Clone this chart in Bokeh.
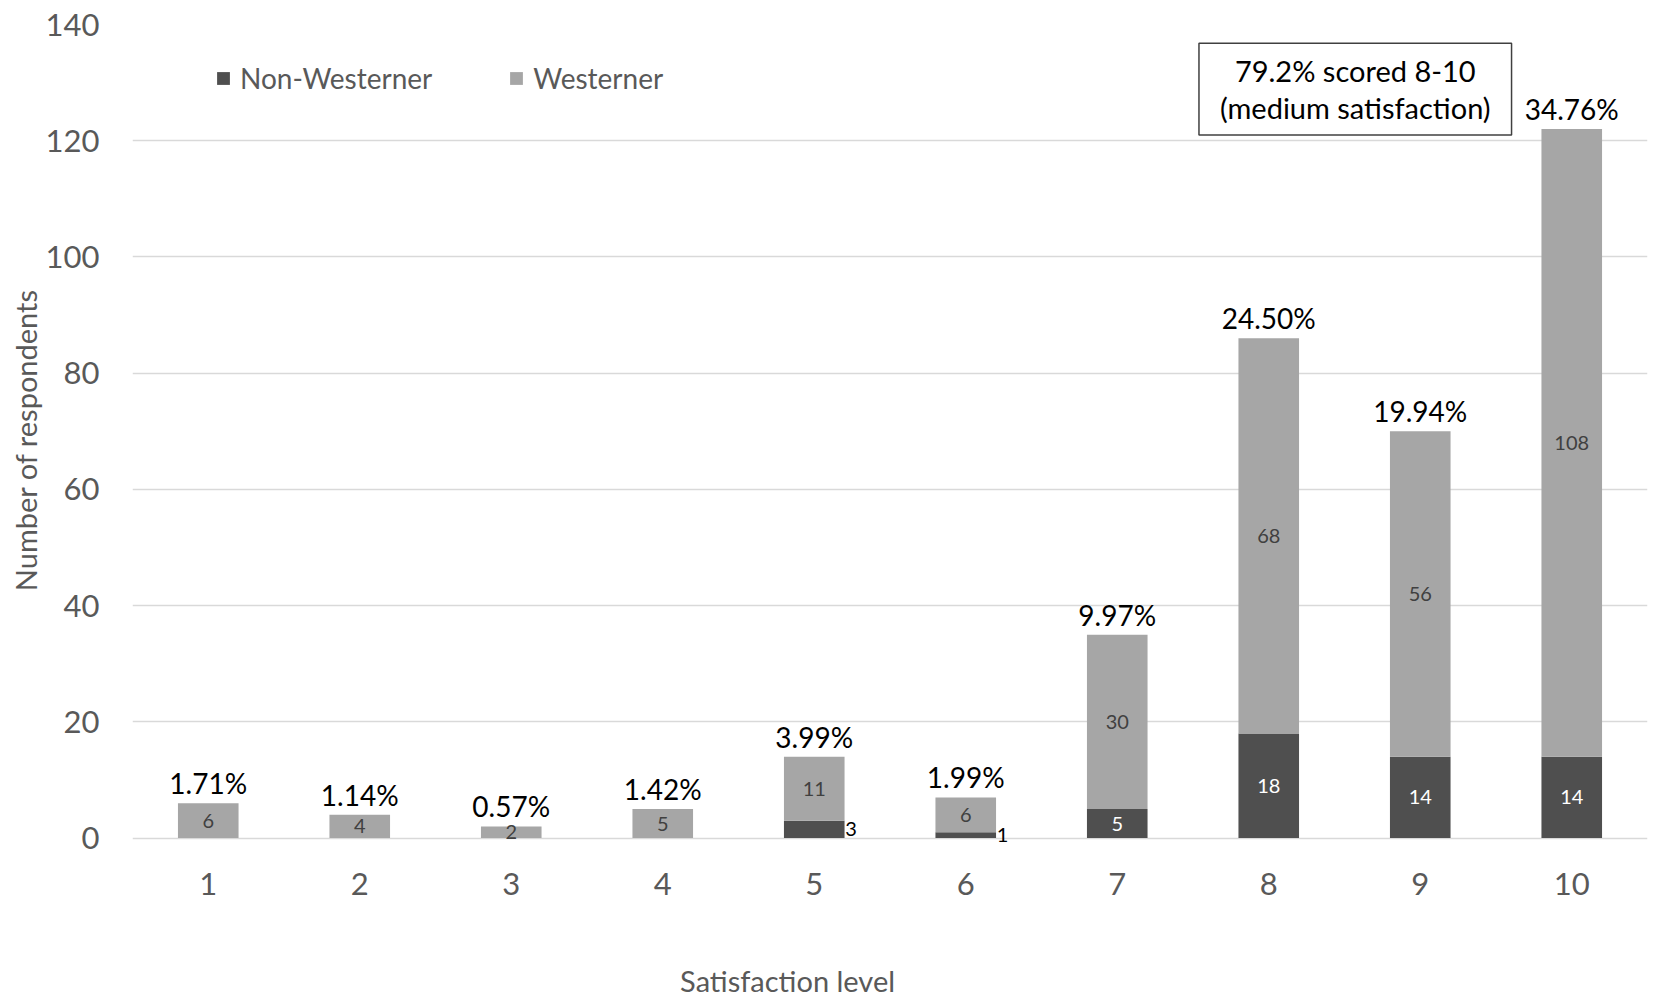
from bokeh.plotting import figure
from bokeh.layouts import column
from bokeh.models import ColumnDataSource, Range1d, Label, Legend, LegendItem
from bokeh.embed import file_html
from bokeh.resources import INLINE
from bokeh.core.properties import value

# ---- data ----
levels = [1, 2, 3, 4, 5, 6, 7, 8, 9, 10]
non_western = [0, 0, 0, 0, 3, 1, 5, 18, 14, 14]
western = [6, 4, 2, 5, 11, 6, 30, 68, 56, 108]
percent_labels = ["1.71%", "1.14%", "0.57%", "1.42%", "3.99%", "1.99%",
                  "9.97%", "24.50%", "19.94%", "34.76%"]
y_ticks = [0, 20, 40, 60, 80, 100, 120, 140]
series_names = ["Non-Westerner", "Westerner"]
note_text = "79.2% scored 8-10\n(medium satisfaction)"
x_title = "Satisfaction level"
y_title = "Number of respondents"

FONT = "Lato"
DARK = "#4f4f4f"
LIGHT = "#a6a6a6"
AXIS_TXT = "#595959"
GRID = "#d9d9d9"

totals = [a + b for a, b in zip(non_western, western)]
src = ColumnDataSource(dict(
    x=levels, nw=non_western, w=western, total=totals, pct=percent_labels,
    w_mid=[a + b / 2 for a, b in zip(non_western, western)],
    w_txt=[str(b) for b in western],
))
inside = [i for i, v in enumerate(non_western) if v >= 5]
outside = [i for i, v in enumerate(non_western) if 0 < v < 5]
src_in = ColumnDataSource(dict(
    x=[levels[i] for i in inside],
    y=[non_western[i] / 2 for i in inside],
    t=[str(non_western[i]) for i in inside]))
src_out = ColumnDataSource(dict(
    x=[levels[i] for i in outside],
    y=[non_western[i] / 2 for i in outside],
    t=[str(non_western[i]) for i in outside]))

W = 1655
H_MAIN = 910
H_TITLE = 89

p = figure(width=W, height=H_MAIN,
           x_range=Range1d(0.5, 10.5), y_range=Range1d(-3, 140),
           output_backend="svg", toolbar_location=None,
           min_border_left=132, min_border_right=8,
           min_border_top=24, min_border_bottom=55)
p.outline_line_color = None
p.background_fill_color = "white"

rs = p.vbar_stack(["nw", "w"], x="x", width=0.4, source=src,
                  color=[DARK, LIGHT], line_color=None)

# segment labels
p.text(x="x", y="w_mid", text="w_txt", source=src,
       text_align="center", text_baseline="middle",
       text_font=value(FONT), text_font_size="20px", text_color="#404040")
p.text(x="x", y="y", text="t", source=src_in,
       text_align="center", text_baseline="middle",
       text_font=value(FONT), text_font_size="20px", text_color="white")
p.text(x="x", y="y", text="t", source=src_out, x_offset=31,
       text_align="left", text_baseline="middle",
       text_font=value(FONT), text_font_size="20px", text_color="black")
# totals
p.text(x="x", y="total", text="pct", source=src, y_offset=-3,
       text_align="center", text_baseline="bottom",
       text_font=value(FONT), text_font_size="28px", text_color="black")

# axes
p.xaxis.ticker = levels
p.yaxis.ticker = y_ticks
for ax in (p.xaxis, p.yaxis):
    ax.major_tick_line_color = None
    ax.minor_tick_line_color = None
    ax.major_label_text_font = FONT
    ax.major_label_text_font_size = "31px"
    ax.major_label_text_color = AXIS_TXT
    ax.axis_line_color = None
p.xaxis.major_label_standoff = 11
p.yaxis.major_label_standoff = 27
p.yaxis.axis_label = y_title
p.yaxis.axis_label_text_font = FONT
p.yaxis.axis_label_text_font_size = "29px"
p.yaxis.axis_label_text_font_style = "normal"
p.yaxis.axis_label_text_color = AXIS_TXT
p.yaxis.axis_label_standoff = 0

p.xgrid.visible = False
p.ygrid.ticker = y_ticks
p.ygrid.grid_line_color = GRID
p.ygrid.grid_line_width = 1.3

# note box
p.add_layout(Label(x=8.571, y=128.9, text=note_text, text_align="center",
                   text_baseline="middle", text_font=FONT,
                   text_font_size="29px", text_color="black",
                   text_line_height=1.05,
                   border_line_color="#404040", border_line_width=1.5,
                   background_fill_color="white", padding=(21, 10)))

legend = Legend(items=[LegendItem(label=series_names[0], renderers=[rs[0]]),
                       LegendItem(label=series_names[1], renderers=[rs[1]])],
                location=(83, 760), orientation="horizontal",
                glyph_width=16, glyph_height=16, label_standoff=9,
                spacing=76, padding=0, margin=0,
                border_line_color=None, background_fill_alpha=0,
                label_text_font=FONT, label_text_font_size="28px",
                label_text_color=AXIS_TXT)
p.add_layout(legend)

# x-axis title strip (frames align with the main plot; the title sits
# left of the frame centre, as in the original)
pt = figure(width=W, height=H_TITLE, x_range=p.x_range,
            y_range=Range1d(0, H_TITLE), output_backend="svg",
            toolbar_location=None, x_axis_type=None, y_axis_type=None,
            min_border=0, min_border_left=132, min_border_right=8)
pt.outline_line_color = None
pt.grid.visible = False
pt.add_layout(Label(x=4.824, y=19, text=x_title, text_align="center",
                    text_baseline="middle", text_font=FONT,
                    text_font_size="29px", text_color=AXIS_TXT))

layout = column(p, pt, spacing=0)
open("out.html", "w").write(file_html(layout, INLINE))
